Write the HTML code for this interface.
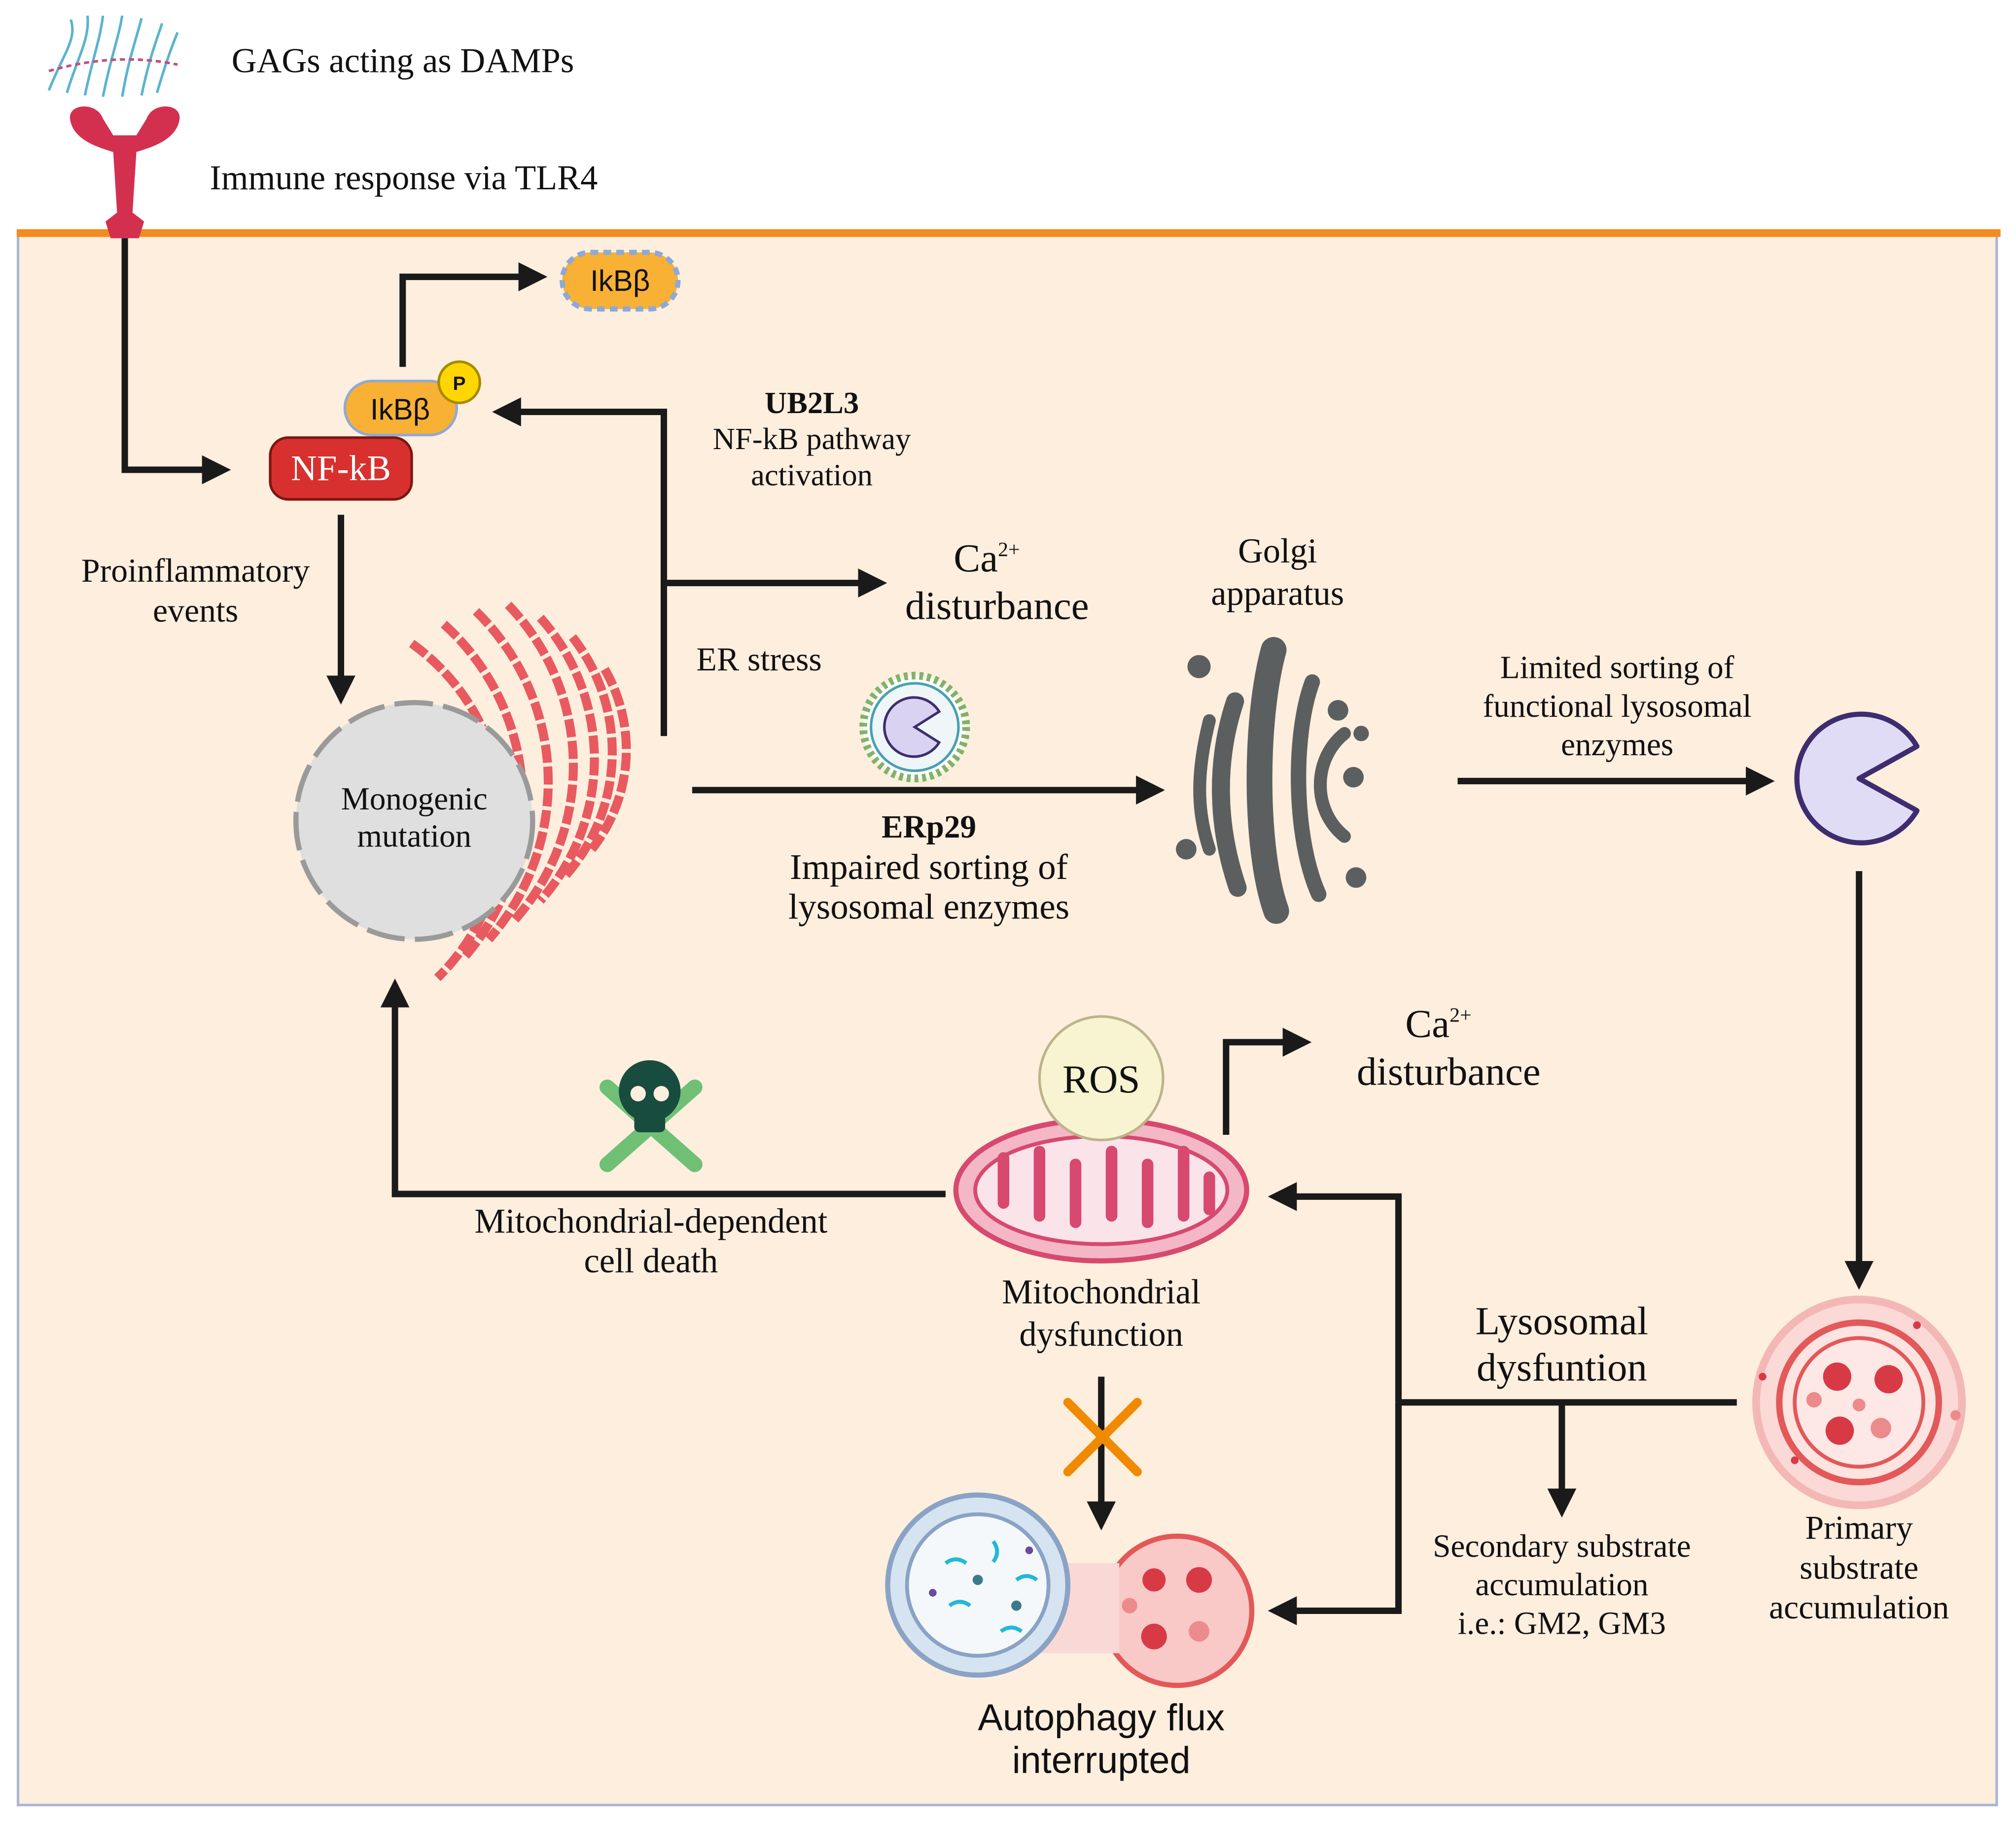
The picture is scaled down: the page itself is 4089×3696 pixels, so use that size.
<!DOCTYPE html>
<html><head><meta charset="utf-8"><style>
html,body{margin:0;padding:0;background:#fff}
svg{display:block}
.s{font-family:"Liberation Serif",serif;fill:#111}
.a{font-family:"Liberation Sans",sans-serif;fill:#111}
</style></head><body>
<svg width="4089" height="3696" viewBox="0 0 1567 1416" xmlns="http://www.w3.org/2000/svg">
<defs>
<marker id="ah" markerWidth="4.5" markerHeight="4.5" refX="3" refY="2.25" orient="auto" markerUnits="strokeWidth"><path d="M0,0 L4.5,2.25 L0,4.5 z" fill="#1a1a1a"/></marker>
</defs>
<rect x="0" y="0" width="1567" height="1416" fill="#fff"/>
<rect x="14" y="181" width="1538" height="1222" fill="#fdeede" stroke="#a9b6d4" stroke-width="2"/>
<line x1="13" y1="181" x2="1555" y2="181" stroke="#f58a1f" stroke-width="6"/>

<!-- GAGs + TLR4 -->
<g stroke="#5ab4d0" stroke-width="2" fill="none">
<path d="M38,70 C50,40 60,30 55,15"/><path d="M52,72 C60,45 70,30 68,12"/><path d="M66,74 C72,45 78,30 80,12"/><path d="M80,75 C86,45 92,30 95,12"/><path d="M95,75 C100,45 106,30 110,14"/><path d="M110,74 C116,45 122,30 126,18"/><path d="M122,72 C130,45 134,35 138,25"/>
</g>
<path d="M38,55 Q90,40 138,50" stroke="#c05080" stroke-width="2" fill="none" stroke-dasharray="4,3"/>
<path fill="#d3304f" d="M55,95 C50,80 75,78 80,92 L88,105 L106,105 L114,92 C119,78 144,80 139,95 C135,110 115,115 106,118 L103,165 L112,172 L108,185 L86,185 L82,172 L91,165 L88,118 C79,115 59,110 55,95 z"/>

<text class="s" x="180" y="56" font-size="27" text-anchor="start">GAGs acting as DAMPs</text>
<text class="s" x="163" y="147" font-size="27" text-anchor="start">Immune response via TLR4</text>

<g stroke="#1a1a1a" stroke-width="5" fill="none">
<polyline points="97,185 97,365 172,365" marker-end="url(#ah)"/>
<polyline points="313,285 313,215 418,215" marker-end="url(#ah)"/>
<line x1="265" y1="400" x2="265" y2="540" marker-end="url(#ah)"/>
<polyline points="516,572 516,320 390,320" marker-end="url(#ah)"/>
<polyline points="516,453 682,453" marker-end="url(#ah)"/>
<line x1="538" y1="614" x2="898" y2="614" marker-end="url(#ah)"/>
<line x1="1133" y1="607" x2="1372" y2="607" marker-end="url(#ah)"/>
<line x1="1445" y1="677" x2="1445" y2="995" marker-end="url(#ah)"/>
<polyline points="1350,1090 1087,1090"/>
<polyline points="1087,1090 1087,930 993,930" marker-end="url(#ah)"/>
<polyline points="1087,1090 1087,1252 993,1252" marker-end="url(#ah)"/>
<line x1="1214" y1="1090" x2="1214" y2="1172" marker-end="url(#ah)"/>
<polyline points="953,882 953,810 1012,810" marker-end="url(#ah)"/>
<line x1="856" y1="1070" x2="856" y2="1182" marker-end="url(#ah)"/>
<polyline points="735,928 307,928 307,768" marker-end="url(#ah)"/>
</g>

<!-- NF-kB / IkB -->
<rect x="268" y="296" width="87" height="42" rx="21" fill="#f8b135" stroke="#8ea9d6" stroke-width="2"/>
<text class="a" x="311" y="326" font-size="23" text-anchor="middle">IkBβ</text>
<circle cx="357" cy="297" r="16" fill="#ffd600" stroke="#a58a00" stroke-width="2"/>
<text class="a" x="357" y="303" font-size="15" text-anchor="middle" font-weight="bold">P</text>
<rect x="210" y="340" width="110" height="48" rx="14" fill="#d8302e" stroke="#7a1713" stroke-width="2"/>
<text x="265" y="373" font-size="28" fill="#fff" text-anchor="middle" font-family="Liberation Serif, serif">NF-kB</text>
<rect x="437" y="196" width="90" height="44" rx="22" fill="#f8b135" stroke="#8ea9d6" stroke-width="4" stroke-dasharray="6,4"/>
<text class="a" x="482" y="226" font-size="23" text-anchor="middle">IkBβ</text>

<g class="s" text-anchor="middle">
<text x="152" y="452" font-size="26">Proinflammatory</text>
<text x="152" y="483" font-size="26">events</text>
</g>

<!-- ER -->
<g fill="none" stroke="#e85a60" stroke-width="7" stroke-dasharray="14,3">
<path d="M320,500 A170,170 0 0 1 340,760"/>
<path d="M345,485 A185,185 0 0 1 360,745"/>
<path d="M370,475 A185,185 0 0 1 380,730"/>
<path d="M395,470 A180,180 0 0 1 400,715"/>
<path d="M420,480 A165,165 0 0 1 420,700"/>
<path d="M445,495 A145,145 0 0 1 440,680"/>
<path d="M470,520 A125,125 0 0 1 460,660"/>
</g>
<circle cx="322" cy="638" r="92" fill="#dedfde" stroke="#9a9a9a" stroke-width="4" stroke-dasharray="30,8"/>
<g class="s" text-anchor="middle">
<text x="322" y="629" font-size="25">Monogenic</text>
<text x="322" y="658" font-size="25">mutation</text>
<text x="631" y="321" font-size="24" font-weight="bold">UB2L3</text>
<text x="631" y="349" font-size="24">NF-kB pathway</text>
<text x="631" y="377" font-size="24">activation</text>
<text x="767" y="444" font-size="31">Ca<tspan font-size="16" dy="-12">2+</tspan></text>
<text x="775" y="481" font-size="31">disturbance</text>
<text x="590" y="521" font-size="26">ER stress</text>
</g>

<!-- vesicle -->
<circle cx="711" cy="565" r="40" fill="#fff" stroke="#7fb36a" stroke-width="6" stroke-dasharray="3,3"/>
<circle cx="711" cy="565" r="34" fill="#eef6f8" stroke="#4aa0b0" stroke-width="2"/>
<path d="M711,565 L730,553 A23,23 0 1 0 730,577 z" fill="#d9d2f0" stroke="#3d2d6e" stroke-width="2"/>
<g class="s" text-anchor="middle">
<text x="722" y="651" font-size="25" font-weight="bold">ERp29</text>
<text x="722" y="683" font-size="28">Impaired sorting of</text>
<text x="722" y="714" font-size="28">lysosomal enzymes</text>
<text x="993" y="437" font-size="27">Golgi</text>
<text x="993" y="470" font-size="27">apparatus</text>
</g>

<!-- Golgi -->
<g fill="none" stroke="#5c5f5f" stroke-linecap="round">
<path d="M990,505 C975,560 975,660 992,708" stroke-width="20"/>
<path d="M960,545 C945,590 945,640 962,690" stroke-width="14"/>
<path d="M940,560 C930,600 930,630 940,660" stroke-width="10"/>
<path d="M1020,530 C1005,570 1005,650 1025,695" stroke-width="12"/>
<path d="M1045,570 C1020,590 1020,630 1045,650" stroke-width="10"/>
</g>
<g fill="#5c5f5f"><circle cx="932" cy="518" r="9"/><circle cx="922" cy="660" r="8"/><circle cx="1040" cy="552" r="8"/><circle cx="1052" cy="604" r="8"/><circle cx="1054" cy="682" r="8"/><circle cx="1058" cy="570" r="6"/></g>

<g class="s" text-anchor="middle">
<text x="1257" y="527" font-size="25">Limited sorting of</text>
<text x="1257" y="557" font-size="25">functional lysosomal</text>
<text x="1257" y="587" font-size="25">enzymes</text>
</g>
<path d="M1445,605 L1490,580 A50,50 0 1 0 1490,630 z" fill="#e1dcf5" stroke="#3d2d6e" stroke-width="4" stroke-linejoin="round"/>

<!-- Lysosome -->
<circle cx="1445" cy="1090" r="80" fill="#fbd9d6" stroke="#f3b8b5" stroke-width="6"/>
<circle cx="1445" cy="1090" r="62" fill="#fde4e1" stroke="#e35858" stroke-width="5"/>
<circle cx="1445" cy="1090" r="50" fill="#fde8e6" stroke="#e35858" stroke-width="3"/>
<g fill="#d83a45"><circle cx="1428" cy="1070" r="11"/><circle cx="1468" cy="1072" r="11"/><circle cx="1430" cy="1112" r="11"/><circle cx="1462" cy="1110" r="8" fill="#ec8b8b"/><circle cx="1410" cy="1088" r="6" fill="#ec8b8b"/><circle cx="1445" cy="1092" r="5" fill="#ec8b8b"/>
<circle cx="1395" cy="1135" r="3"/><circle cx="1490" cy="1030" r="3"/><circle cx="1370" cy="1070" r="3"/><circle cx="1520" cy="1100" r="4" fill="#ec8b8b"/></g>
<g class="s" text-anchor="middle">
<text x="1445" y="1196" font-size="26">Primary</text>
<text x="1445" y="1227" font-size="26">substrate</text>
<text x="1445" y="1258" font-size="26">accumulation</text>
<text x="1214" y="1037" font-size="31">Lysosomal</text>
<text x="1214" y="1073" font-size="31">dysfuntion</text>
<text x="1214" y="1210" font-size="25">Secondary substrate</text>
<text x="1214" y="1240" font-size="25">accumulation</text>
<text x="1214" y="1270" font-size="25">i.e.: GM2, GM3</text>
</g>

<!-- Mito -->
<ellipse cx="856" cy="925" rx="113" ry="55" fill="#f4b7c6" stroke="#d7496f" stroke-width="4"/>
<ellipse cx="856" cy="925" rx="98" ry="42" fill="#fbe3ea" stroke="#d7496f" stroke-width="3"/>
<g stroke="#d7496f" stroke-width="9" stroke-linecap="round" fill="none">
<line x1="780" y1="900" x2="780" y2="935"/><line x1="808" y1="895" x2="808" y2="945"/><line x1="836" y1="950" x2="836" y2="905"/><line x1="864" y1="895" x2="864" y2="945"/><line x1="892" y1="950" x2="892" y2="905"/><line x1="920" y1="895" x2="920" y2="945"/><line x1="940" y1="915" x2="940" y2="940"/>
</g>
<circle cx="856" cy="838" r="48" fill="#f8f3d0" stroke="#bcb38a" stroke-width="2"/>
<g class="s" text-anchor="middle">
<text x="856" y="849" font-size="31">ROS</text>
<text x="1118" y="806" font-size="31">Ca<tspan font-size="16" dy="-12">2+</tspan></text>
<text x="1126" y="843" font-size="31">disturbance</text>
<text x="856" y="1013" font-size="27">Mitochondrial</text>
<text x="856" y="1046" font-size="27">dysfunction</text>
</g>
<g stroke="#f08a00" stroke-width="7" stroke-linecap="round"><line x1="830" y1="1090" x2="884" y2="1144"/><line x1="884" y1="1090" x2="830" y2="1144"/></g>

<!-- Autophagy -->
<circle cx="915" cy="1252" r="58" fill="#f8c9c6" stroke="#e35858" stroke-width="4"/>
<rect x="800" y="1215" width="70" height="70" fill="#f9d8d6"/>
<circle cx="760" cy="1232" r="70" fill="#d6e4f2" stroke="#8aa3c4" stroke-width="4"/>
<circle cx="760" cy="1232" r="55" fill="#f4f8fb" stroke="#8aa3c4" stroke-width="3"/>
<g fill="#d83a45"><circle cx="897" cy="1228" r="9"/><circle cx="932" cy="1228" r="10"/><circle cx="897" cy="1272" r="10"/><circle cx="932" cy="1268" r="8" fill="#ec8b8b"/><circle cx="878" cy="1248" r="6" fill="#ec8b8b"/></g>
<g stroke="#22b8d8" stroke-width="3" fill="none"><path d="M735,1215 q8,-6 16,0"/><path d="M772,1198 q6,8 0,16"/><path d="M790,1228 q8,-6 16,0"/><path d="M738,1248 q8,-6 16,0"/><path d="M778,1268 q8,-6 16,0"/></g>
<g fill="#3b7a8c"><circle cx="760" cy="1228" r="4"/><circle cx="790" cy="1248" r="4"/><circle cx="725" cy="1238" r="3" fill="#6a4a9a"/><circle cx="800" cy="1205" r="3" fill="#6a4a9a"/></g>
<text class="a" x="856" y="1345" font-size="29" text-anchor="middle">Autophagy flux</text>
<text class="a" x="856" y="1378" font-size="29" text-anchor="middle">interrupted</text>

<!-- Skull -->
<g stroke="#6fc075" stroke-width="12" stroke-linecap="round"><line x1="472" y1="845" x2="540" y2="905"/><line x1="540" y1="845" x2="472" y2="905"/></g>
<ellipse cx="505" cy="848" rx="24" ry="24" fill="#174c3f"/>
<rect x="493" y="862" width="24" height="18" rx="4" fill="#174c3f"/>
<circle cx="496" cy="850" r="6" fill="#fdeede"/><circle cx="514" cy="850" r="6" fill="#fdeede"/>
<text class="s" x="506" y="958" font-size="27" text-anchor="middle">Mitochondrial-dependent</text>
<text class="s" x="506" y="989" font-size="27" text-anchor="middle">cell death</text>
</svg>
</body></html>
